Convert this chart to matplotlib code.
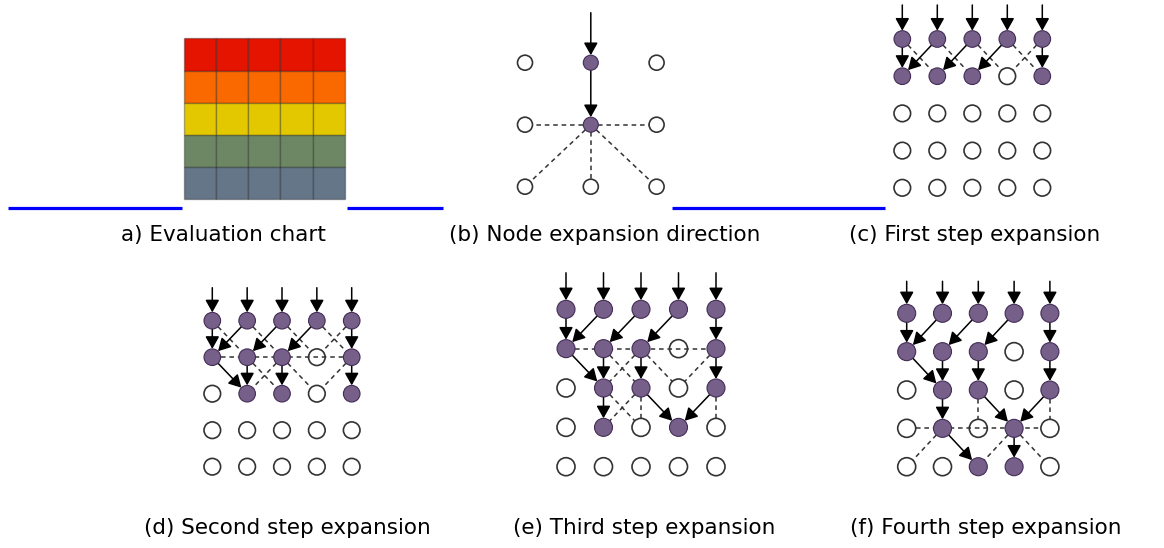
import numpy as np
import matplotlib
matplotlib.use('Agg')
import matplotlib.pyplot as plt
from matplotlib.patches import Circle, Rectangle, FancyArrowPatch

# ---- data -----------------------------------------------------------------
# evaluation chart: one colour per row (top to bottom), 5 x 5 cells
chart_colors = ['#e51400', '#fa6800', '#e3c800', '#6d8764', '#647687']
chart_cols = 5

captions = ['a) Evaluation chart', '(b) Node expansion direction',
            '(c) First step expansion', '(d) Second step expansion',
            '(e) Third step expansion', '(f) Fourth step expansion']

# (b) node expansion direction, 3 x 3 grid, edges are (r1, c1, r2, c2)
b_filled = [(0, 1), (1, 1)]
b_solid = [(0, 1, 1, 1)]
b_dashed = [(1, 1, 1, 0), (1, 1, 1, 2), (1, 1, 2, 0), (1, 1, 2, 1), (1, 1, 2, 2)]
b_inputs = [1]

# expansion steps on a 5 x 5 grid
row0 = [(0, c) for c in range(5)]
row1 = [(1, 0), (1, 1), (1, 2), (1, 4)]
row2 = [(2, 1), (2, 2), (2, 4)]
row3 = [(3, 1), (3, 3)]
row4 = [(4, 2), (4, 3)]

l0_solid = [(0, 0, 1, 0), (0, 1, 1, 0), (0, 2, 1, 1), (0, 3, 1, 2), (0, 4, 1, 4)]
l0_dashed = [(0, 0, 1, 1), (0, 1, 1, 2), (0, 2, 1, 3), (0, 3, 1, 4), (0, 4, 1, 3)]
l1_solid = [(1, 0, 2, 1), (1, 1, 2, 1), (1, 2, 2, 2), (1, 4, 2, 4)]
l1_dashed = [(1, 1, 2, 2), (1, 2, 2, 1), (1, 2, 2, 3), (1, 4, 2, 3)]
l2_solid = [(2, 1, 3, 1), (2, 2, 3, 3), (2, 4, 3, 3)]
l2_dashed_e = [(2, 1, 3, 2), (2, 2, 3, 1), (2, 2, 3, 2), (2, 4, 3, 4)]
l2_dashed_f = [(2, 2, 3, 2), (2, 4, 3, 4)]
l3_solid = [(3, 1, 4, 2), (3, 3, 4, 3)]
l3_dashed = [(3, 1, 4, 0), (3, 3, 4, 2), (3, 3, 4, 4)]

c_filled = row0 + row1
c_solid = l0_solid
c_dashed = l0_dashed
c_hline = []

d_filled = row0 + row1 + row2
d_solid = l0_solid + l1_solid
d_dashed = l0_dashed + l1_dashed
d_hline = [1]

e_filled = row0 + row1 + row2 + row3
e_solid = l0_solid + l1_solid + l2_solid
e_dashed = l1_dashed + l2_dashed_e
e_hline = [1]

f_filled = row0 + row1 + row2 + row3 + row4
f_solid = l0_solid + l1_solid + l2_solid + l3_solid
f_dashed = l2_dashed_f + l3_dashed
f_hline = [3]

# ---- styles ---------------------------------------------------------------
FILL = '#76608a'
FILL_EDGE = '#432d57'
LINE = '#333333'
HEAD = '-|>,head_length=0.75,head_width=0.42'

fig = plt.figure(figsize=(11.64, 5.48), dpi=100)
ax = fig.add_axes([0, 0, 1, 1])
ax.set_xlim(0, 1164)
ax.set_ylim(548, 0)
ax.axis('off')


def node_xy(lay, r, c):
    x0, y0, dx, dy, rad, lead = lay
    return x0 + c * dx, y0 + r * dy


def trim(p, q, rad):
    p = np.array(p, float)
    q = np.array(q, float)
    u = (q - p) / np.hypot(*(q - p))
    return p + u * rad, q - u * rad


def draw_graph(lay, nrows, ncols, filled, solid, dashed, hline, inputs):
    x0, y0, dx, dy, rad, lead = lay
    for (r1, c1, r2, c2) in dashed:
        a, b = trim(node_xy(lay, r1, c1), node_xy(lay, r2, c2), rad)
        ax.plot([a[0], b[0]], [a[1], b[1]], color=LINE, lw=1.1,
                dashes=(3, 2.5), zorder=1)
    for r in hline:
        ax.plot([x0 + rad, x0 + (ncols - 1) * dx - rad], [y0 + r * dy] * 2,
                color=LINE, lw=1.1, dashes=(3, 2.5), zorder=1)
    for (r1, c1, r2, c2) in solid:
        a, b = trim(node_xy(lay, r1, c1), node_xy(lay, r2, c2), rad)
        ax.add_patch(FancyArrowPatch(a, b, arrowstyle=HEAD,
                                     mutation_scale=10, color='black', lw=1.1,
                                     shrinkA=0, shrinkB=0, zorder=2))
    for c in inputs:
        x, y = node_xy(lay, 0, c)
        ax.add_patch(FancyArrowPatch((x, y - lead), (x, y - rad),
                                     arrowstyle=HEAD,
                                     mutation_scale=10, color='black', lw=1.1,
                                     shrinkA=0, shrinkB=0, zorder=2))
    for r in range(nrows):
        for c in range(ncols):
            x, y = node_xy(lay, r, c)
            if (r, c) in filled:
                ax.add_patch(Circle((x, y), rad, facecolor=FILL, edgecolor=FILL_EDGE,
                                    lw=0.8, zorder=3))
            else:
                ax.add_patch(Circle((x, y), rad, facecolor='none', edgecolor=LINE,
                                    lw=1.2, zorder=3))


# (a) evaluation chart
gx, gy, cell = 183.7, 38.3, 32.2
for i, col in enumerate(chart_colors):
    for j in range(chart_cols):
        ax.add_patch(Rectangle((gx + j * cell, gy + i * cell), cell, cell,
                               facecolor=col, edgecolor=(0, 0, 0, 0.3), lw=1))

# blue separators
for xa, xb in [(8, gx - 2), (gx + chart_cols * cell + 2, 443), (672, 885)]:
    ax.plot([xa, xb], [207.5, 207.5], color='#0000ff', lw=2.3, solid_capstyle='butt')

# graphs: layout = (x0, y0, dx, dy, radius, lead)
draw_graph((525, 62.7, 65.8, 62, 7.5, 50), 3, 3, b_filled, b_solid, b_dashed, [], b_inputs)
draw_graph((902.3, 39, 35, 37.2, 8.3, 34), 5, 5, c_filled, c_solid, c_dashed, c_hline, range(5))
draw_graph((212.3, 320.7, 34.85, 36.5, 8.3, 33), 5, 5, d_filled, d_solid, d_dashed, d_hline, range(5))
draw_graph((566, 309.3, 37.5, 39.35, 9, 36.5), 5, 5, e_filled, e_solid, e_dashed, e_hline, range(5))
draw_graph((906.7, 313.3, 35.8, 38.35, 9, 32), 5, 5, f_filled, f_solid, f_dashed, f_hline, range(5))

# captions
cap_pos = [(223.3, 235), (605, 235), (975, 235), (287.5, 528), (644, 528), (986, 528)]
for (x, y), s in zip(cap_pos, captions):
    ax.text(x, y, s, ha='center', va='center', fontsize=15.5, family='DejaVu Sans')

fig.savefig('out.png', dpi=100)
